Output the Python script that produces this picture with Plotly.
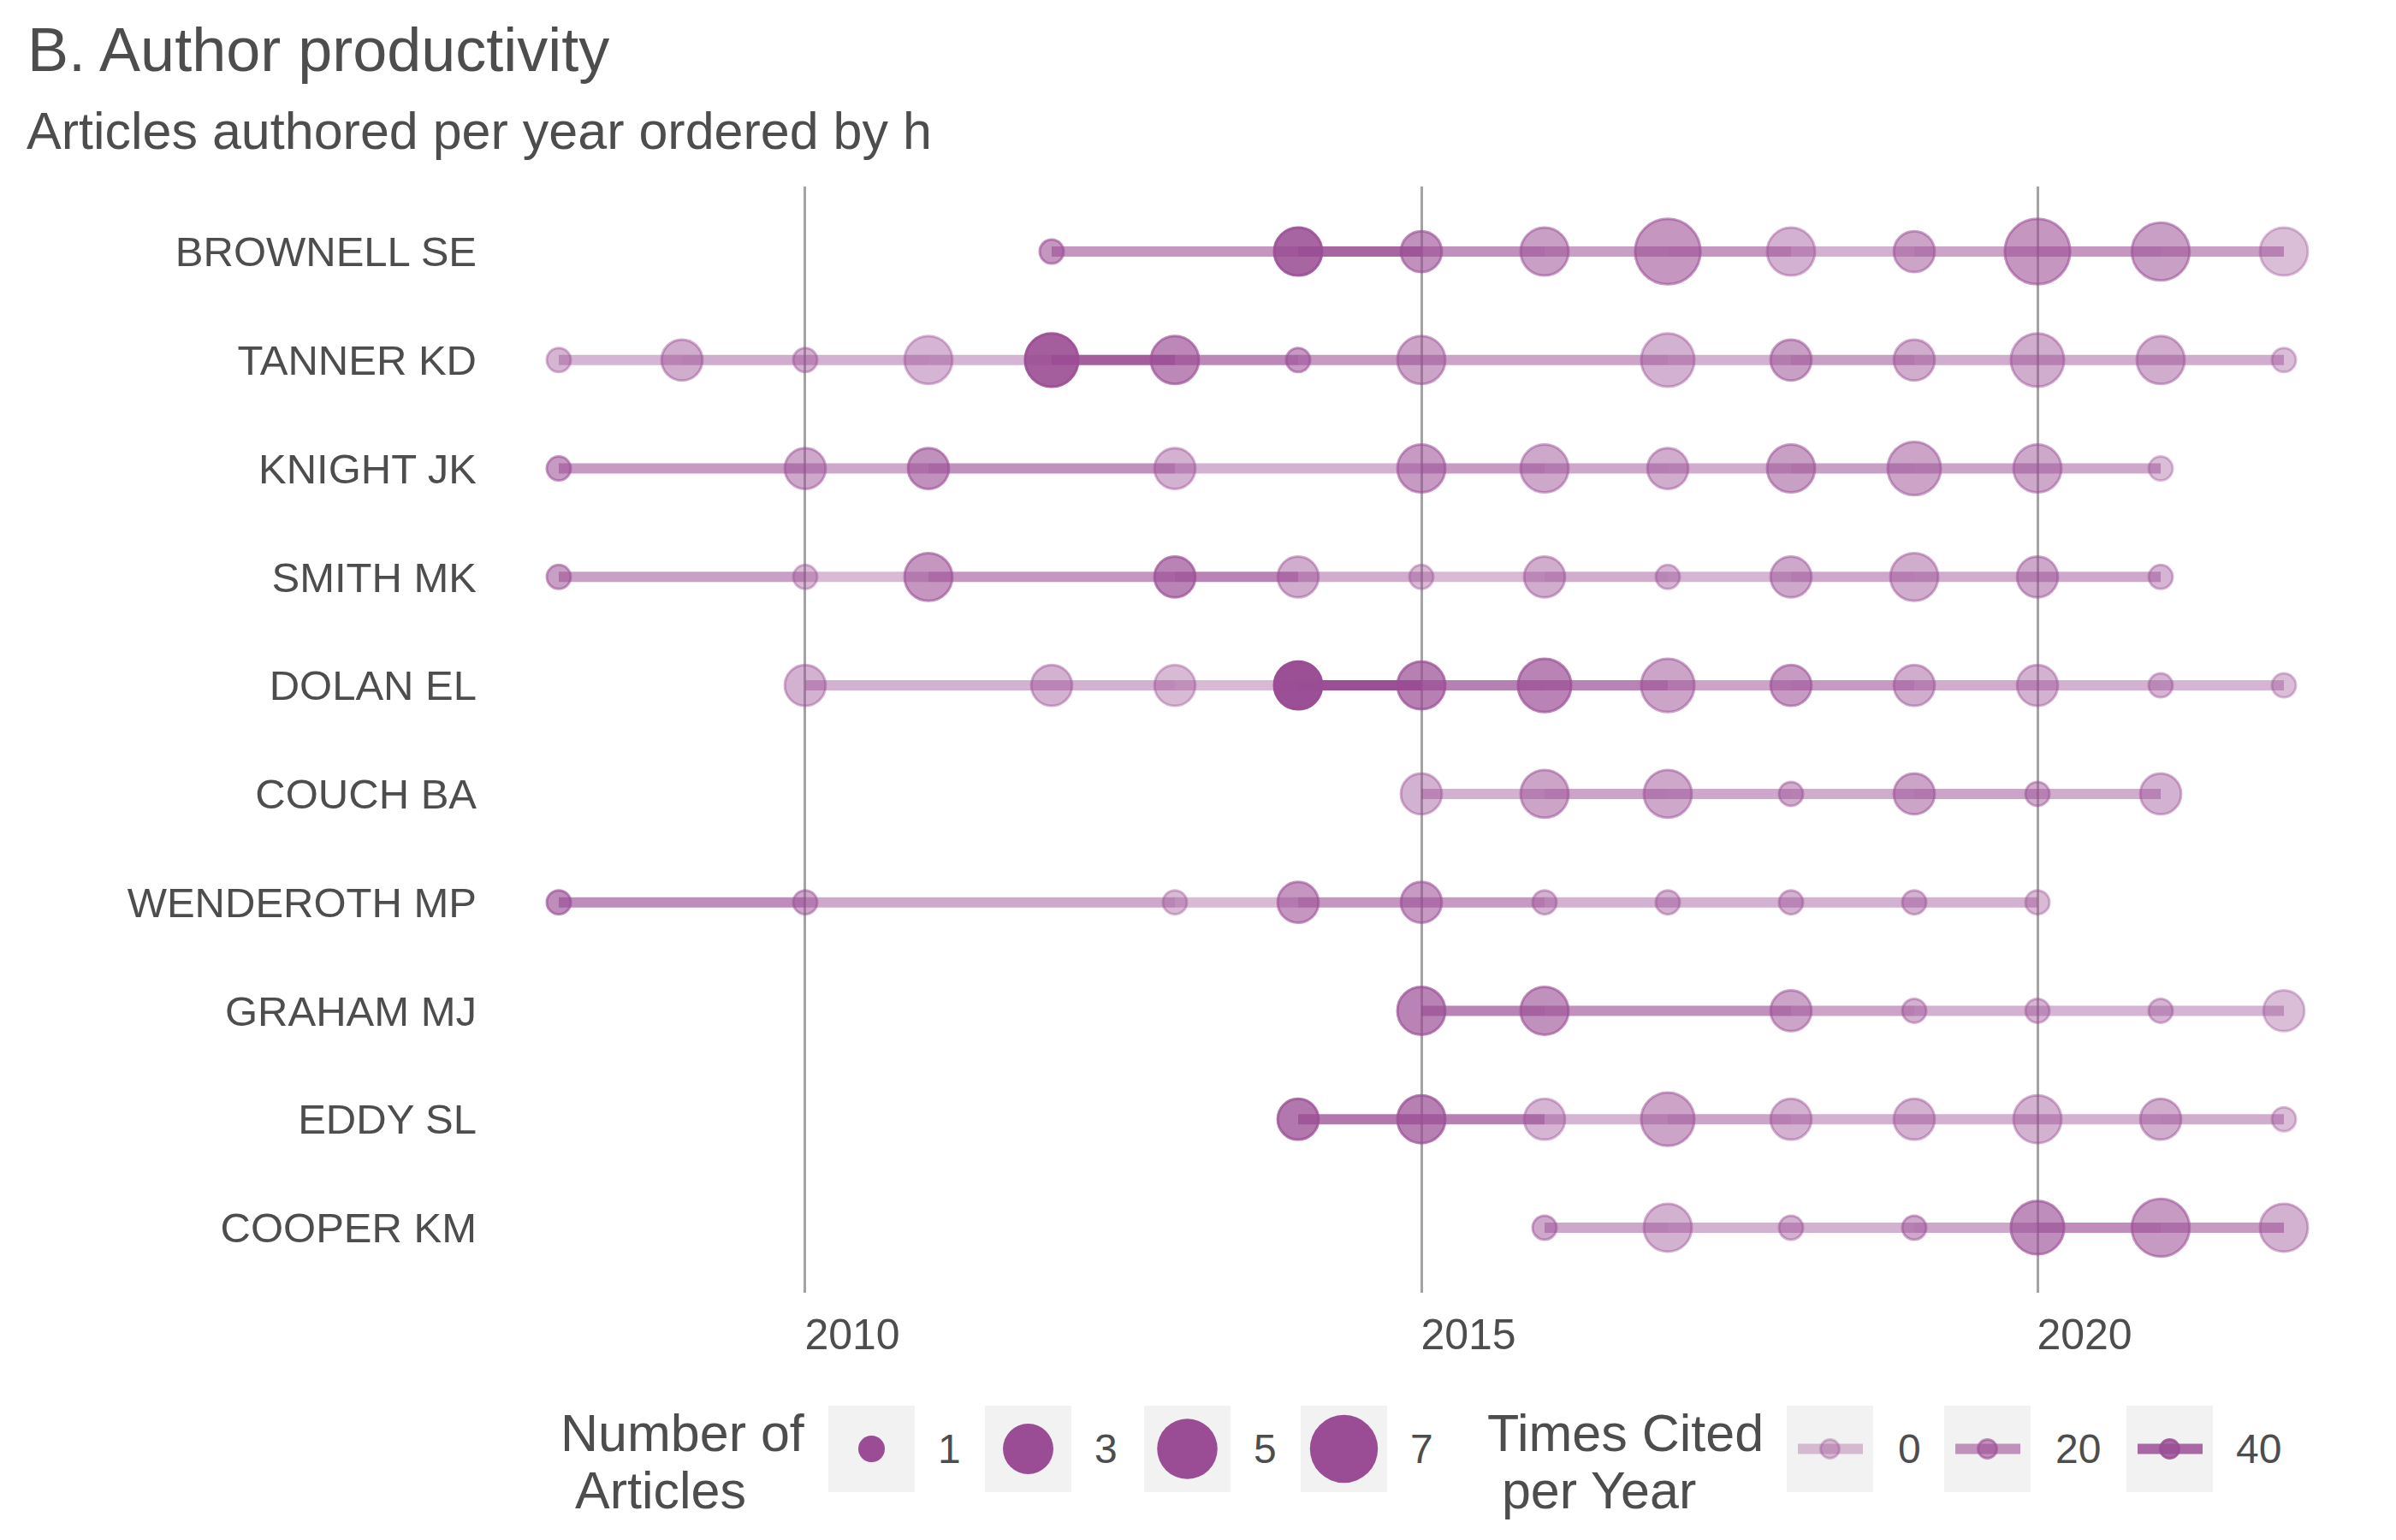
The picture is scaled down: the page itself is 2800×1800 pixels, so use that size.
import math
import plotly.graph_objects as go

W, H = 2800, 1800
OFF = 8  # page offset of the figure inside the browser window

authors = ["BROWNELL SE", "TANNER KD", "KNIGHT JK", "SMITH MK", "DOLAN EL",
           "COUCH BA", "WENDEROTH MP", "GRAHAM MJ", "EDDY SL", "COOPER KM"]

years = {
    "BROWNELL SE": [2012, 2014, 2015, 2016, 2017, 2018, 2019, 2020, 2021, 2022],
    "TANNER KD": [2008, 2009, 2010, 2011, 2012, 2013, 2014, 2015, 2017, 2018, 2019, 2020, 2021, 2022],
    "KNIGHT JK": [2008, 2010, 2011, 2013, 2015, 2016, 2017, 2018, 2019, 2020, 2021],
    "SMITH MK": [2008, 2010, 2011, 2013, 2014, 2015, 2016, 2017, 2018, 2019, 2020, 2021],
    "DOLAN EL": [2010, 2012, 2013, 2014, 2015, 2016, 2017, 2018, 2019, 2020, 2021, 2022],
    "COUCH BA": [2015, 2016, 2017, 2018, 2019, 2020, 2021],
    "WENDEROTH MP": [2008, 2010, 2013, 2014, 2015, 2016, 2017, 2018, 2019, 2020],
    "GRAHAM MJ": [2015, 2016, 2018, 2019, 2020, 2021, 2022],
    "EDDY SL": [2014, 2015, 2016, 2017, 2018, 2019, 2020, 2021, 2022],
    "COOPER KM": [2016, 2017, 2018, 2019, 2020, 2021, 2022],
}

articles = {
    "BROWNELL SE": [1, 3, 2, 3, 7, 3, 2, 7, 5, 3],
    "TANNER KD": [1, 2, 1, 3, 4, 3, 1, 3, 4, 2, 2, 4, 3, 1],
    "KNIGHT JK": [1, 2, 2, 2, 3, 3, 2, 3, 4, 3, 1],
    "SMITH MK": [1, 1, 3, 2, 2, 1, 2, 1, 2, 3, 2, 1],
    "DOLAN EL": [2, 2, 2, 3, 3, 4, 4, 2, 2, 2, 1, 1],
    "COUCH BA": [2, 3, 3, 1, 2, 1, 2],
    "WENDEROTH MP": [1, 1, 1, 2, 2, 1, 1, 1, 1, 1],
    "GRAHAM MJ": [3, 3, 2, 1, 1, 1, 2],
    "EDDY SL": [2, 3, 2, 4, 2, 2, 3, 2, 1],
    "COOPER KM": [1, 3, 1, 1, 4, 5, 3],
}

# times cited per year
cited = {
    "BROWNELL SE": [20, 42, 22, 16, 20, 8, 14, 20, 16, 2],
    "TANNER KD": [6, 10, 8, 6, 45, 26, 18, 14, 8, 16, 10, 10, 10, 2],
    "KNIGHT JK": [18, 12, 22, 8, 18, 12, 10, 16, 14, 12, 2],
    "SMITH MK": [16, 4, 20, 28, 10, 4, 10, 6, 12, 10, 12, 6],
    "DOLAN EL": [8, 8, 4, 52, 30, 28, 14, 18, 10, 8, 6, 2],
    "COUCH BA": [8, 14, 12, 10, 14, 10, 8],
    "WENDEROTH MP": [24, 12, 4, 20, 18, 8, 8, 8, 8, 4],
    "GRAHAM MJ": [28, 22, 14, 8, 6, 6, 2],
    "EDDY SL": [34, 30, 6, 14, 8, 8, 8, 10, 2],
    "COOPER KM": [12, 8, 8, 12, 24, 18, 8],
}

size_breaks = [1, 3, 5, 7]
cited_breaks = [0, 20, 40]
year_ticks = [2010, 2015, 2020]

TXT = "#4d4d4d"
FONT = "Liberation Sans, Arial, sans-serif"
RING = 3

n_min = min(min(v) for v in articles.values())
n_max = max(max(v) for v in articles.values())


def size_px(n):
    # area-like scale: outer diameter in px
    return 31 + 48.4 * math.sqrt((n - n_min) / (n_max - n_min))


def alpha(c):
    return min(1.0, 0.34 + 0.0125 * c)


def purple(a=1.0):
    return "rgba(154,77,148,%.3f)" % a


fig = go.Figure()

# connecting segments, each coloured by the starting year's citations
for a in authors:
    ys, cs = years[a], cited[a]
    for i in range(len(ys) - 1):
        fig.add_trace(go.Scatter(
            x=[ys[i], ys[i + 1]], y=[a, a], mode="lines",
            line=dict(color=purple(alpha(cs[i])), width=12),
            hoverinfo="skip", showlegend=False))

# points
for a in authors:
    cols = [purple(alpha(c)) for c in cited[a]]
    fig.add_trace(go.Scatter(
        x=years[a], y=[a] * len(years[a]), mode="markers",
        marker=dict(size=[size_px(n) - RING for n in articles[a]], color=cols, opacity=1,
                    line=dict(color=cols, width=RING)),
        showlegend=False, name=a))

# ---- legend, drawn on a pixel-coordinate overlay axis ----
key_y = 1693.5
size_keys_x = [968, 1151, 1337, 1520]
cited_keys_x = [2088, 2272, 2485]
key_w = 101

shapes = []
for x0 in size_keys_x + cited_keys_x:
    shapes.append(dict(type="rect", xref="x2", yref="y2", x0=x0, x1=x0 + key_w,
                       y0=key_y - 50.5, y1=key_y + 50.5, fillcolor="#f2f2f2",
                       line=dict(width=0), layer="below"))

fig.add_trace(go.Scatter(
    x=[x0 + key_w / 2 for x0 in size_keys_x], y=[key_y] * len(size_breaks),
    xaxis="x2", yaxis="y2", mode="markers",
    marker=dict(size=[size_px(n) for n in size_breaks], color=purple(1.0), opacity=1,
                line=dict(width=0)),
    hoverinfo="skip", showlegend=False))

for x0, c in zip(cited_keys_x, cited_breaks):
    fig.add_trace(go.Scatter(
        x=[x0 + 13, x0 + key_w - 12], y=[key_y, key_y], xaxis="x2", yaxis="y2",
        mode="lines", line=dict(color=purple(alpha(c)), width=12),
        hoverinfo="skip", showlegend=False))
    fig.add_trace(go.Scatter(
        x=[x0 + key_w / 2], y=[key_y], xaxis="x2", yaxis="y2", mode="markers",
        marker=dict(size=22, color=purple(alpha(c)), opacity=1,
                    line=dict(color=purple(alpha(c)), width=RING)),
        hoverinfo="skip", showlegend=False))

annotations = []


def label(text, x, y, size):
    annotations.append(dict(text=text, x=(x - OFF) / W, y=1 - (y - OFF) / H,
                            xref="paper", yref="paper",
                            xanchor="left", yanchor="middle", showarrow=False,
                            font=dict(size=size, color=TXT, family=FONT)))


label("B. Author productivity", 30, 58, 72)
label("Articles authored per year ordered by h", 29, 153, 61)
label("Number of", 653, 1675, 61)
label("\u00a0Articles", 653, 1742, 61)
label("Times Cited", 1736, 1675, 61)
label("\u00a0per Year", 1736, 1742, 61)
for x0, n in zip(size_keys_x, size_breaks):
    label(str(n), x0 + key_w + 25, key_y, 48)
label(str(cited_breaks[0]), 2216, key_y, 48)
label(str(cited_breaks[1]), 2400, key_y, 48)
label(str(cited_breaks[2]), 2611, key_y, 48)

px_left, px_right = 565, 2757
px_top, px_bottom = 218, 1511

fig.update_layout(
    width=W, height=H, autosize=False,
    margin=dict(l=0, r=0, t=0, b=0, pad=0),
    paper_bgcolor="white", plot_bgcolor="rgba(0,0,0,0)",
    font=dict(family=FONT, color=TXT),
    showlegend=False,
    xaxis=dict(domain=[(px_left - OFF) / W, (px_right - OFF) / W], range=[2007.389, 2022.611],
               tickvals=year_ticks, ticktext=[str(t) for t in year_ticks],
               showgrid=True, gridcolor="#a3a3a3", gridwidth=2.5,
               zeroline=False, showline=False, ticks="",
               tickfont=dict(size=50, color=TXT), ticklabelshift=55, ticklabelstandoff=15),
    yaxis=dict(domain=[1 - (px_bottom - OFF) / H, 1 - (px_top - OFF) / H], type="category",
               categoryorder="array", categoryarray=authors, range=[9.6, -0.6],
               showgrid=False, zeroline=False, showline=False, ticks="",
               tickfont=dict(size=49, color=TXT), ticklabelstandoff=7),
    xaxis2=dict(domain=[0, 1], range=[OFF, W + OFF], visible=False, anchor="y2"),
    yaxis2=dict(domain=[0, 1], range=[H + OFF, OFF], visible=False, anchor="x2"),
    shapes=shapes,
    annotations=annotations,
)

fig.write_html("out.html")
